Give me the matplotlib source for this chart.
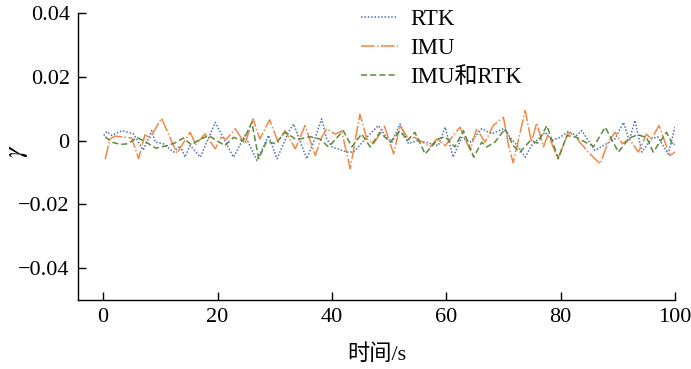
import matplotlib
matplotlib.use("Agg")
import matplotlib.pyplot as plt

plt.rcParams['font.family'] = ['Liberation Serif', 'Noto Sans CJK SC']
plt.rcParams['mathtext.fontset'] = 'stix'

# RTK
t_rtk = [0.1, 0.65, 1.5, 3.3, 5.3, 7.0, 8.5, 9.1, 10.5, 12.3, 13.5, 14.3, 15.2, 17.0,
         19.6, 20.8, 22.8, 24.8, 26.9, 28.9, 30.4, 32.4, 33.3, 35.6, 36.8, 38.2, 39.1,
         40.0, 42.6, 43.8, 46.1, 48.1, 49.3, 50.5, 51.9, 53.4, 54.8, 56.3, 58.6, 59.8,
         61.2, 62.7, 64.2, 66.2, 67.9, 70.0, 71.4, 72.6, 73.8, 74.9, 76.1, 77.3, 78.5,
         79.9, 81.3, 82.8, 83.7, 86.0, 89.5, 91.0, 92.0, 93.0, 94.2, 95.9, 97.0, 98.8, 100]
y_rtk = [0.0016, 0.0028, 0.0016, 0.0031, 0.0021, -0.003, 0.0031, -0.0005, -0.001, -0.0036,
         -0.0016, -0.0052, -0.0016, -0.0052, 0.0057, 0.0016, -0.0052, 0.0016, -0.0063,
         0.0016, -0.0057, 0.0026, 0.0052, -0.0057, -0.0005, 0.0068, 0.0005, -0.002, -0.0036,
         -0.0036, 0.001, 0.0047, 0.0016, -0.0005, 0.0052, -0.001, 0.0, -0.0005, -0.0016,
         0.0042, -0.0052, 0.001, -0.0005, 0.0037, 0.0021, 0.0037, 0.0005, -0.002, -0.0052,
         -0.0016, 0.0005, 0.0026, 0.0, 0.001, 0.0028, 0.0016, 0.0031, -0.0031, 0.0005,
         0.0057, 0.0, 0.0063, -0.0036, 0.0005, 0.0012, -0.0042, 0.0042]

# IMU
t_imu = [0.35, 1.2, 2.1, 3.8, 5.0, 6.2, 7.3, 8.2, 10.2, 12.9, 15.2, 16.2, 17.8, 19.6,
         20.6, 21.6, 23.1, 24.8, 26.2, 27.4, 29.1, 30.6, 31.8, 33.6, 35.3, 37.1, 38.2,
         39.1, 40.6, 41.7, 43.2, 44.9, 46.1, 47.3, 49.2, 50.8, 51.9, 53.4, 54.5, 57.2,
         58.3, 59.8, 62.4, 64.2, 65.3, 66.8, 68.2, 70.0, 70.9, 71.7, 73.8, 74.9, 75.8,
         77.0, 77.8, 79.5, 81.4, 82.6, 84.8, 86.9, 88.3, 89.5, 90.8, 92.0, 93.6, 95.0,
         95.9, 97.2, 99.1, 100]
y_imu = [-0.0058, 0.0005, 0.0014, 0.001, 0.0008, -0.0057, 0.0018, 0.0008, 0.007, -0.004,
         0.0026, -0.0012, 0.0021, -0.0026, 0.001, 0.0005, 0.0037, -0.001, 0.0068, 0.0005,
         0.0065, -0.0005, 0.0031, -0.0026, 0.0047, -0.0047, 0.001, 0.0037, 0.002, 0.003,
         -0.0088, 0.0083, 0.0005, -0.001, 0.0045, -0.0042, 0.0047, 0.0005, 0.001, -0.002,
         0.0005, -0.0016, 0.0042, -0.0031, 0.0037, -0.0005, 0.0047, 0.0073, -0.0016,
         -0.007, 0.0094, -0.0005, 0.0055, -0.002, 0.002, -0.0057, 0.0026, 0.0012, -0.0036,
         -0.0073, -0.0005, 0.0026, -0.001, 0.0005, -0.0036, 0.002, 0.0005, 0.0047, -0.0047,
         -0.0036]

# IMU和RTK
t_fus = [0.35, 1.5, 3.0, 4.4, 5.9, 7.5, 9.2, 11.1, 12.5, 14.0, 15.5, 16.1, 18.4, 21.3,
         22.8, 24.5, 26.0, 27.2, 28.6, 30.1, 31.8, 33.6, 34.4, 36.2, 37.9, 39.4, 42.0,
         43.5, 45.2, 46.7, 48.4, 50.2, 51.9, 53.2, 54.5, 56.3, 58.6, 59.8, 61.5, 63.0,
         64.8, 66.2, 67.1, 68.5, 70.3, 71.7, 72.9, 74.7, 76.0, 77.6, 79.6, 81.1, 82.8,
         84.3, 85.8, 87.8, 90.1, 92.0, 93.5, 95.0, 96.2, 98.5, 99.7, 100]
y_fus = [0.0012, -0.0005, -0.0012, -0.001, 0.001, -0.0005, -0.0024, -0.0016, -0.0008,
         0.0008, -0.0014, -0.0005, 0.0016, -0.0016, 0.001, 0.0, 0.0057, -0.0057, -0.0002,
         -0.001, 0.0026, 0.0005, 0.0005, 0.0012, 0.0005, -0.002, 0.0031, -0.002, 0.0021,
         -0.002, 0.0026, -0.0005, 0.0031, 0.0, 0.0026, -0.0042, 0.0005, 0.0012, -0.002,
         0.0031, -0.0052, -0.0005, -0.002, -0.0005, 0.0037, -0.0016, -0.0036, 0.0,
         -0.0008, 0.0047, -0.0057, 0.0016, 0.001, -0.0005, -0.0018, 0.0042, -0.0036,
         0.0008, 0.0018, 0.001, -0.0036, 0.0026, -0.0016, -0.001]

x_ticks = [0, 20, 40, 60, 80, 100]
y_ticks = [-0.04, -0.02, 0, 0.02, 0.04]
y_ticklabels = ['\u22120.04', '\u22120.02', '0', '0.02', '0.04']

fig = plt.figure(figsize=(6.91, 3.69), dpi=100)
ax = fig.add_axes([78/691, 69/369, (675-78)/691, (300-13)/369])

ax.plot(t_rtk, y_rtk, color='#4a72b0', lw=1.1, linestyle=(0, (1, 1.2)), label='RTK')
ax.plot(t_imu, y_imu, color='#f08848', lw=1.1, linestyle=(0, (9, 1.5, 1, 1.5)), label='IMU')
ax.plot(t_fus, y_fus, color='#5a8a3c', lw=1.1, linestyle=(0, (4, 2)), label='IMU和RTK')

ax.set_xlim(-4.4, 100)
ax.set_ylim(-0.05, 0.04)
ax.set_xticks(x_ticks)
ax.set_yticks(y_ticks)
ax.set_yticklabels(y_ticklabels)
ax.tick_params(direction='in', length=6, width=1, labelsize=16, pad=6)
for s in ['top', 'right']:
    ax.spines[s].set_visible(False)
ax.spines['left'].set_linewidth(1.0)
ax.spines['bottom'].set_linewidth(1.0)

ax.set_xlabel('时间/s', fontsize=16, labelpad=12)
ax.set_ylabel('$\\gamma$', fontsize=19, rotation=90)
ax.yaxis.set_label_coords(-0.08, 0.52)

ax.legend(loc='upper left', bbox_to_anchor=(352/691, 1.0), bbox_transform=fig.transFigure,
          frameon=False, fontsize=16.5, handlelength=1.6, handletextpad=0.55,
          labelspacing=0.35, borderaxespad=0)

fig.savefig('out.png', dpi=100)
